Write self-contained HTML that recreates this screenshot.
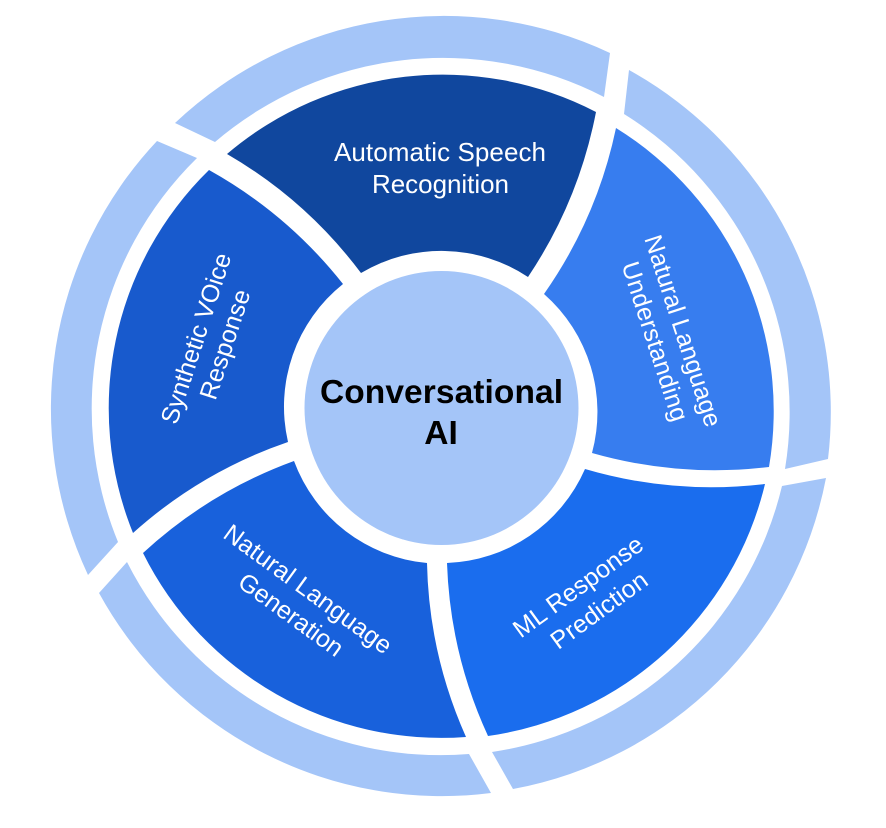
<!DOCTYPE html>
<html>
<head>
<meta charset="utf-8">
<style>
html,body{margin:0;padding:0;background:#fff;width:886px;height:828px;overflow:hidden}
svg{display:block}
text{font-family:"Liberation Sans",Arial,sans-serif;fill:#fff;text-anchor:middle;font-size:25px}
text.c{fill:#000;font-weight:bold;font-size:33.5px}
</style>
</head>
<body>
<svg width="886" height="828" viewBox="0 0 886 828" xmlns="http://www.w3.org/2000/svg">
<rect width="886" height="828" fill="#fff"/>
<g fill="#A4C5F8">
<path d="M175,123 A391,391 0 0 1 610,53 L604,97 A351,351 0 0 0 215,142 Z"/>
<path d="M629,70 A391,391 0 0 1 828,459 L785,469 A351,351 0 0 0 624,114 Z"/>
<path d="M826,478 A391,391 0 0 1 513,789 L492,752 A351,351 0 0 0 782,486 Z"/>
<path d="M491,793 A391,391 0 0 1 99,593 L127,562 A351,351 0 0 0 469,754 Z"/>
<path d="M88,575 A391,391 0 0 1 157,141 L197,158 A351,351 0 0 0 118,542 Z"/>
</g>
<path fill="#10479E" d="M227,154 A333,333 0 0 1 596,112 A450,450 0 0 1 528,277 A157,157 0 0 0 361,273 A450,450 0 0 0 227,154 Z"/>
<path fill="#377DEF" d="M616,128 A333,333 0 0 1 769,467 A450,450 0 0 1 592,453 A157,157 0 0 0 544,294 A450,450 0 0 0 616,128 Z"/>
<path fill="#1A6DEE" d="M765,484 A333,333 0 0 1 488,736 A450,450 0 0 1 447,563 A157,157 0 0 0 585,469 A450,450 0 0 0 765,484 Z"/>
<path fill="#1861DC" d="M466,737 A333,333 0 0 1 143,553 A450,450 0 0 1 294,461 A157,157 0 0 0 427,563 A450,450 0 0 0 466,737 Z"/>
<path fill="#185ACD" d="M133,533 A333,333 0 0 1 209,170 A450,450 0 0 1 343,284 A157,157 0 0 0 288,442 A450,450 0 0 0 133,533 Z"/>
<circle cx="441.5" cy="408" r="137" fill="#A4C5F8"/>

<text x="440" y="161" style="font-size:26px" textLength="212">Automatic Speech</text>
<text x="440.5" y="193" style="font-size:26px" textLength="137">Recognition</text>

<text transform="translate(675,333.5) rotate(72)" textLength="200">Natural Language</text>
<text transform="translate(647,344) rotate(72)" textLength="166">Understanding</text>

<text transform="translate(583,593.5) rotate(-36)" textLength="154">ML Response</text>
<text transform="translate(604,617) rotate(-36)" textLength="113">Prediction</text>

<text transform="translate(303,596) rotate(36)" textLength="201">Natural Language</text>
<text transform="translate(286,621.5) rotate(36)" textLength="123">Generation</text>

<text transform="translate(204,341) rotate(-72)" textLength="178">Synthetic VOice</text>
<text transform="translate(233,347) rotate(-72)" textLength="114">Response</text>

<text class="c" x="441.5" y="403" textLength="243">Conversational</text>
<text class="c" x="441" y="444">AI</text>
</svg>
</body>
</html>
